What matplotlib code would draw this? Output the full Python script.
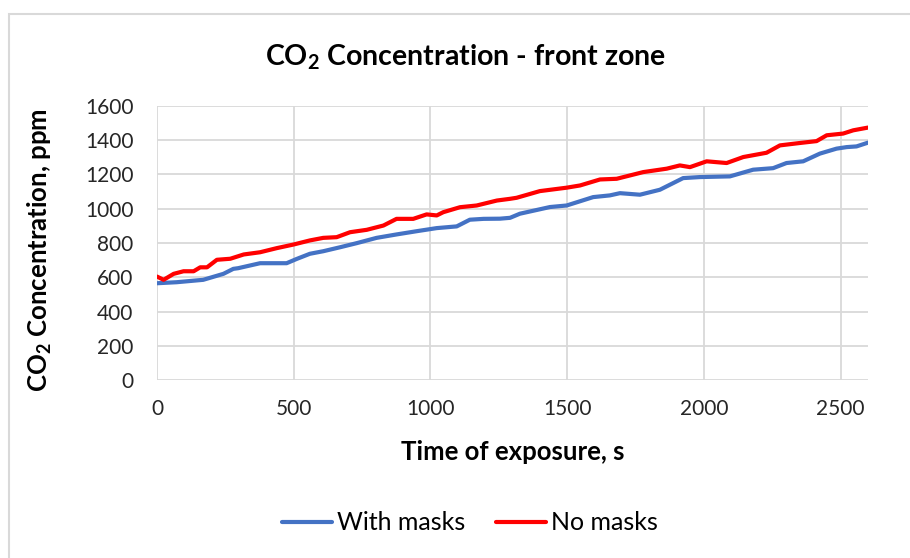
import matplotlib
matplotlib.use("Agg")
import matplotlib.pyplot as plt
from matplotlib.patches import Rectangle

plt.rcParams['font.family'] = ['Lato', 'DejaVu Sans']

# Data
t_masks = [0, 72, 169, 243, 279, 297, 377, 474, 511, 559, 608, 669, 730, 803, 876, 950,
           1023, 1096, 1144, 1194, 1254, 1291, 1327, 1437, 1498, 1595, 1656, 1693, 1766,
           1839, 1924, 1985, 2095, 2180, 2253, 2302, 2363, 2424, 2485, 2522, 2558, 2600]
co2_masks = [565, 571, 585, 620, 649, 653, 682, 682, 707, 737, 752, 775, 799, 830, 850, 869,
             887, 897, 936, 941, 942, 947, 971, 1010, 1019, 1068, 1078, 1091, 1082,
             1111, 1179, 1185, 1189, 1228, 1237, 1267, 1277, 1322, 1351, 1360, 1364, 1386]

t_nomask = [0, 24, 61, 97, 134, 158, 183, 219, 268, 317, 377, 438, 499, 559, 608, 657, 706,
            767, 828, 876, 937, 986, 1023, 1047, 1108, 1169, 1243, 1291, 1315, 1400, 1498,
            1547, 1620, 1681, 1778, 1864, 1912, 1949, 2010, 2083, 2144, 2229, 2278, 2351,
            2412, 2449, 2509, 2546, 2600]
co2_nomask = [604, 585, 620, 635, 635, 658, 658, 702, 708, 733, 746, 770, 791, 815, 830, 834, 863,
              877, 902, 941, 941, 967, 961, 980, 1009, 1019, 1048, 1058, 1064, 1103, 1123,
              1136, 1171, 1175, 1214, 1234, 1253, 1243, 1277, 1267, 1302, 1327, 1370, 1384,
              1395, 1429, 1439, 1458, 1474]

x_ticks = [0, 500, 1000, 1500, 2000, 2500]
y_ticks = [0, 200, 400, 600, 800, 1000, 1200, 1400, 1600]

W, H = 910, 558
fig = plt.figure(figsize=(W / 100, H / 100), dpi=100)

# outer chart border
fig.patches.append(Rectangle((9 / W, -0.05), 1.1, 1 - 14 / H + 0.05, transform=fig.transFigure,
                             fill=False, edgecolor='#D9D9D9', linewidth=1.5))

ax = fig.add_axes([157 / W, 1 - 380 / H, (868 - 157) / W, (380 - 106) / H])
ax.plot(t_masks, co2_masks, color='#4472C4', lw=3, label='With masks', solid_capstyle='round')
ax.plot(t_nomask, co2_nomask, color='#FF0000', lw=3, label='No masks', solid_capstyle='round')

ax.set_xlim(0, 2600)
ax.set_ylim(0, 1600)
ax.set_xticks(x_ticks)
ax.set_yticks(y_ticks)
ax.grid(True, color='#D9D9D9', lw=1.3)
ax.set_axisbelow(True)
for s in ax.spines.values():
    s.set_visible(False)
ax.tick_params(length=0, labelsize=15, labelcolor='#262626')
ax.tick_params(axis='x', pad=14)
ax.tick_params(axis='y', pad=17)

fig.text(465 / W, 1 - 57 / H,
         'CO$_\\mathregular{2}$ Concentration - front zone', ha='center', va='center',
         fontsize=20.5, fontweight='bold', color='#000000')
fig.text(513 / W, 1 - 452 / H, 'Time of exposure, s', ha='center', va='center',
         fontsize=18.5, fontweight='bold')
fig.text(40 / W, 1 - 250 / H, 'CO$_\\mathregular{2}$ Concentration, ppm', ha='center', va='center',
         rotation=90, fontsize=18.5, fontweight='bold')

leg = fig.legend(loc='center', bbox_to_anchor=(470 / W, 1 - 523 / H), ncol=2, frameon=False,
                 fontsize=18, handlelength=2.0, columnspacing=1.25, handletextpad=0.2)

fig.savefig('out.png', dpi=100)
